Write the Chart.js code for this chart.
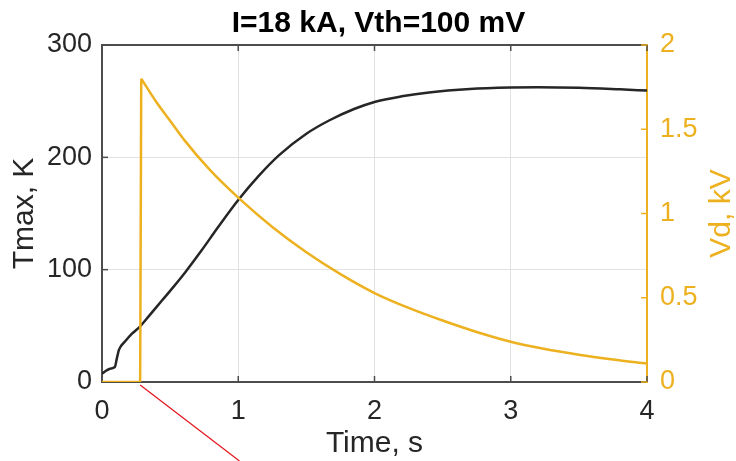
<!DOCTYPE html>
<html><head><meta charset="utf-8">
<script src="https://cdn.jsdelivr.net/npm/chart.js@4.4.1/dist/chart.umd.min.js"></script>
<style>html,body{margin:0;padding:0;background:#fff;overflow:hidden}#wrap{width:736px;height:461px;position:relative}</style>
</head><body><div id="wrap"><canvas id="c" width="736" height="461"></canvas></div>
<script>
// ---- text ----
const titleText = 'I=18 kA, Vth=100 mV';
const xTitle = 'Time, s';
const yLeftTitle = 'Tmax, K';
const yRightTitle = 'Vd, kV';
// ---- tick values / labels ----
const xTicks = [0, 1, 2, 3, 4];
const tTicks = [0, 100, 200, 300];
const vTicks = [0, 0.5, 1, 1.5, 2];
const vTickLabels = ['0', '0.5', '1', '1.5', '2'];
// ---- Tmax series (left axis, K) ----
const timeT = [0, 0.03, 0.06, 0.095, 0.107, 0.125, 0.17, 0.22, 0.28, 0.35, 0.44, 0.52, 0.61, 0.73, 0.85, 1.0, 1.15, 1.3, 1.5, 1.67, 1.85, 2.0, 2.2, 2.4, 2.7, 3.0, 3.2, 3.5, 3.8, 4.0];
const tmax  = [7.4, 10, 11.8, 13.4, 19.9, 28.8, 36.2, 43, 49.5, 59.5, 72.5, 84, 97.5, 117, 137.5, 162, 183.5, 202, 221, 233, 243, 249.3, 254.3, 257.8, 260.8, 262.1, 262.4, 261.9, 260.5, 259.4];
// ---- Vd series (right axis, kV): switch-on step, then decay ----
const timeStep = [0, 0.28, 0.288];
const vdStep   = [0, 0, 1.80];
const timeVd = [0.288, 0.4, 0.5, 0.6, 0.79, 1.0, 1.25, 1.5, 1.75, 2.0, 2.25, 2.5, 2.75, 3.0, 3.25, 3.5, 3.75, 4.0];
const vd     = [1.80, 1.66, 1.55, 1.44, 1.26, 1.094, 0.92, 0.77, 0.64, 0.528, 0.44, 0.365, 0.297, 0.239, 0.196, 0.162, 0.133, 0.109];
// ---- annotation (red pointer) anchored at the switch-on instant ----
const pointerAt = [0.28, 0];

const FONT = '"Liberation Sans", Arial, Helvetica, sans-serif';
const AX = '#262626', AXLINE = '#4d4d4d', YEL = '#EDB120', GRID = '#e2e2e2';

const pts = (xs, ys) => xs.map((x, i) => ({x, y: ys[i]}));

const decor = {
  id: 'decor',
  beforeDatasetsDraw(chart) {
    const {ctx, chartArea: a, scales} = chart;
    ctx.save();
    ctx.strokeStyle = AXLINE; ctx.lineWidth = 2;
    ctx.beginPath(); ctx.moveTo(a.left, a.top); ctx.lineTo(a.right, a.top); ctx.stroke();
    const L = 6;
    ctx.lineWidth = 1.5; ctx.strokeStyle = AXLINE;
    xTicks.forEach(v => {
      const px = scales.x.getPixelForValue(v);
      ctx.beginPath(); ctx.moveTo(px, a.bottom); ctx.lineTo(px, a.bottom - L); ctx.stroke();
      ctx.beginPath(); ctx.moveTo(px, a.top); ctx.lineTo(px, a.top + L); ctx.stroke();
    });
    tTicks.forEach(v => {
      const py = scales.yT.getPixelForValue(v);
      ctx.beginPath(); ctx.moveTo(a.left, py); ctx.lineTo(a.left + L, py); ctx.stroke();
    });
    ctx.strokeStyle = YEL;
    vTicks.forEach(v => {
      const py = scales.yV.getPixelForValue(v);
      ctx.beginPath(); ctx.moveTo(a.right, py); ctx.lineTo(a.right - L, py); ctx.stroke();
    });
    ctx.restore();
  },
  afterDraw(chart) {
    const {ctx, chartArea: a, scales, height} = chart;
    ctx.save();
    ctx.fillStyle = '#000';
    ctx.font = 'bold 30px ' + FONT;
    ctx.textAlign = 'center'; ctx.textBaseline = 'alphabetic';
    ctx.fillText(titleText, (a.left + a.right) / 2 + 4, 32);
    ctx.fillStyle = YEL;
    ctx.font = '30px ' + FONT;
    ctx.translate(722, (a.top + a.bottom) / 2);
    ctx.rotate(-Math.PI / 2);
    ctx.textAlign = 'center'; ctx.textBaseline = 'middle';
    ctx.fillText(yRightTitle, 0, 0);
    ctx.restore();
    ctx.save();
    const x0 = scales.x.getPixelForValue(pointerAt[0]);
    const y0 = scales.yV.getPixelForValue(pointerAt[1]) + 3;
    const slope = 96.7 / 74;
    ctx.strokeStyle = '#e3121b'; ctx.lineWidth = 1.2;
    ctx.beginPath(); ctx.moveTo(x0, y0); ctx.lineTo(x0 + (height - y0) * slope, height); ctx.stroke();
    ctx.restore();
  }
};

new Chart(document.getElementById('c'), {
  type: 'line',
  data: {
    datasets: [
      {data: pts(timeStep, vdStep), yAxisID: 'yV', borderColor: YEL, borderWidth: 2.5, pointRadius: 0, tension: 0, fill: false},
      {data: pts(timeVd, vd), yAxisID: 'yV', borderColor: YEL, borderWidth: 2.5, pointRadius: 0, cubicInterpolationMode: 'monotone', fill: false},
      {data: pts(timeT, tmax), yAxisID: 'yT', borderColor: AX, borderWidth: 2.5, pointRadius: 0, cubicInterpolationMode: 'monotone', fill: false}
    ]
  },
  options: {
    responsive: false, animation: false, devicePixelRatio: 1,
    layout: {padding: {top: 45, left: 0, right: 0, bottom: 0}},
    plugins: {legend: {display: false}, title: {display: false}, tooltip: {enabled: false}},
    scales: {
      x: {
        type: 'linear', min: 0, max: 4,
        afterBuildTicks: s => { s.ticks = xTicks.map(v => ({value: v})); },
        afterFit: s => { s.height = 79; },
        ticks: {font: {family: FONT, size: 27}, color: AX, padding: 13, maxRotation: 0, autoSkip: false},
        grid: {color: GRID, lineWidth: 1, drawTicks: false},
        border: {color: AXLINE, width: 2},
        title: {display: true, text: xTitle, color: AX, font: {family: FONT, size: 30, lineHeight: 1}, padding: {top: 0, bottom: 2}}
      },
      yT: {
        type: 'linear', position: 'left', min: 0, max: 300,
        afterBuildTicks: s => { s.ticks = tTicks.map(v => ({value: v})); },
        afterFit: s => { s.width = 102; },
        ticks: {font: {family: FONT, size: 27}, color: AX, padding: 10},
        grid: {color: GRID, lineWidth: 1, drawTicks: false},
        border: {color: AXLINE, width: 2},
        title: {display: true, text: yLeftTitle, color: AX, font: {family: FONT, size: 30, lineHeight: 1}, padding: {top: 10, bottom: 0}}
      },
      yV: {
        type: 'linear', position: 'right', min: 0, max: 2,
        afterBuildTicks: s => { s.ticks = vTicks.map(v => ({value: v})); },
        afterFit: s => { s.width = 89; },
        ticks: {font: {family: FONT, size: 27}, color: YEL, padding: 13,
                callback: (v) => { const i = vTicks.indexOf(v); return i >= 0 ? vTickLabels[i] : ''; }},
        grid: {display: true, drawOnChartArea: false, drawTicks: false},
        border: {color: YEL, width: 2}
      }
    }
  },
  plugins: [decor]
});
</script>
</body></html>
